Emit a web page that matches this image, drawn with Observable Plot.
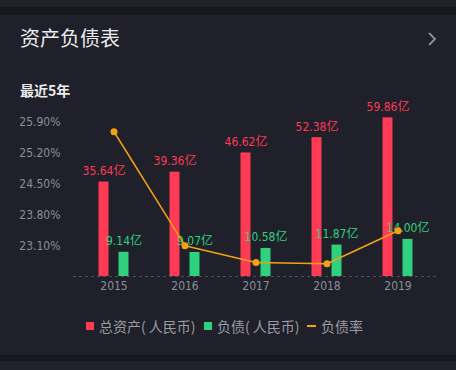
<!DOCTYPE html>
<html>
<head>
<meta charset="utf-8">
<script src="https://cdn.jsdelivr.net/npm/d3@7"></script>
<script src="https://cdn.jsdelivr.net/npm/@observablehq/plot@0.6"></script>
<style>
  html, body { margin: 0; padding: 0; background: #1f2029; }
  #page { position: relative; width: 456px; height: 370px; overflow: hidden; background: #1f2029; font-family: "Noto Sans CJK SC", "Noto Sans", sans-serif; }
  .band { position: absolute; left: 0; width: 456px; }
  #title { position: absolute; left: 20px; top: 24px; font-size: 20px; line-height: 28px; color: #ececee; }
  #sub { position: absolute; left: 20px; top: 80px; font-size: 14px; line-height: 20px; font-weight: bold; color: #ececee; }
  .plot { position: absolute; left: 0; top: 0; }
  .leg { position: absolute; font-size: 14px; line-height: 20px; color: #9a9ca5; top: 316px; white-space: nowrap; }
  .sw { position: absolute; }
</style>
</head>
<body>
<div id="page">
  <div class="band" style="top:0;height:7px;background:#21222b"></div>
  <div class="band" style="top:7px;height:8px;background:#18191e"></div>
  <div class="band" style="top:355px;height:6px;background:#18191e"></div>
  <div class="band" style="top:361px;height:9px;background:#21222b"></div>
  <div id="title">资产负债表</div>
  <svg style="position:absolute;left:424px;top:31px" width="14" height="16"><polyline points="5,2 11,8 5,14" fill="none" stroke="#8d8f97" stroke-width="1.8"/></svg>
  <div id="sub">最近5年</div>
  <div id="plotA" class="plot"></div>
  <div id="plotB" class="plot"></div>
  <div id="legend"></div>
</div>
<script>
const years = ["2015", "2016", "2017", "2018", "2019"];
const totalAssets = [35.64, 39.36, 46.62, 52.38, 59.86];
const liabilities = [9.14, 9.07, 10.58, 11.87, 14.00];
const debtRatio = [25.69, 23.10, 22.72, 22.69, 23.44];
const rateTicks = [23.10, 23.80, 24.50, 25.20, 25.90];
const legendLabels = ["总资产( 人民币)", "负债( 人民币)", "负债率"];

const RED = "#fe3a55", GREEN = "#2fd07e", ORANGE = "#f3a312", GRAY = "#8b8e98";
const data = years.map((y, i) => ({year: y, assets: totalAssets[i], debt: liabilities[i], rate: debtRatio[i]}));

const common = {
  width: 456, height: 300,
  marginLeft: 73, marginRight: 19, marginTop: 122, marginBottom: 24,
  style: {background: "transparent", color: GRAY, fontFamily: "'DejaVu Sans Condensed', 'Noto Sans CJK SC', sans-serif", fontSize: "12px", overflow: "visible"}
};
const xScale = {domain: years, type: "band", paddingInner: 0, paddingOuter: 0.063};
const numFont = "'DejaVu Sans Condensed', 'Noto Sans CJK SC', sans-serif";

const plotA = Plot.plot({
  ...common,
  x: {...xScale, axis: null},
  y: {domain: [0, 58.1], axis: null},
  marks: [
    Plot.ruleY([0], {stroke: "#4d4f58", strokeDasharray: "3,3", strokeWidth: 1}),
    Plot.barY(data, {x: "year", y: "assets", fill: RED, insetLeft: 30.5, insetRight: 30.5, dx: -10}),
    Plot.barY(data, {x: "year", y: "debt", fill: GREEN, insetLeft: 30.5, insetRight: 30.5, dx: 10}),
    Plot.axisX({tickSize: 0, tickPadding: 5, fontSize: 12, fill: GRAY, label: null}),
    Plot.text(data, {x: "year", y: "assets", text: d => d.assets.toFixed(2) + "亿", dx: -10, dy: -11, fill: RED, fontSize: 12, fontFamily: numFont}),
    Plot.text(data, {x: "year", y: "debt", text: d => d.debt.toFixed(2) + "亿", dx: 10, dy: -11, fill: GREEN, fontSize: 12, fontFamily: numFont})
  ]
});
document.getElementById("plotA").appendChild(plotA);

const plotB = Plot.plot({
  ...common,
  x: {...xScale, axis: null},
  y: {domain: [22.4, 25.9], axis: null},
  marks: [
    Plot.axisY({ticks: rateTicks, tickFormat: d => d.toFixed(2) + "%", tickSize: 0, tickPadding: 13, fill: GRAY, fontSize: 12, label: null}),
    Plot.line(data, {x: "year", y: "rate", stroke: ORANGE, strokeWidth: 1.5, curve: "linear"}),
    Plot.dot(data, {x: "year", y: "rate", r: 3.5, fill: ORANGE, stroke: "none"})
  ]
});
document.getElementById("plotB").appendChild(plotB);

// legend
const leg = document.getElementById("legend");
const items = [
  {x: 86, tx: 99, color: RED, kind: "sq", label: legendLabels[0]},
  {x: 204, tx: 217, color: GREEN, kind: "sq", label: legendLabels[1]},
  {x: 307, tx: 321, color: ORANGE, kind: "line", label: legendLabels[2]}
];
items.forEach(it => {
  const s = document.createElement("div");
  s.className = "sw";
  if (it.kind === "sq") {
    s.style.cssText = `left:${it.x}px;top:322px;width:8px;height:8px;background:${it.color}`;
  } else {
    s.style.cssText = `left:${it.x}px;top:325px;width:9px;height:2px;background:${it.color}`;
  }
  leg.appendChild(s);
  const t = document.createElement("div");
  t.className = "leg";
  t.style.left = it.tx + "px";
  t.textContent = it.label;
  leg.appendChild(t);
});
</script>
</body>
</html>
